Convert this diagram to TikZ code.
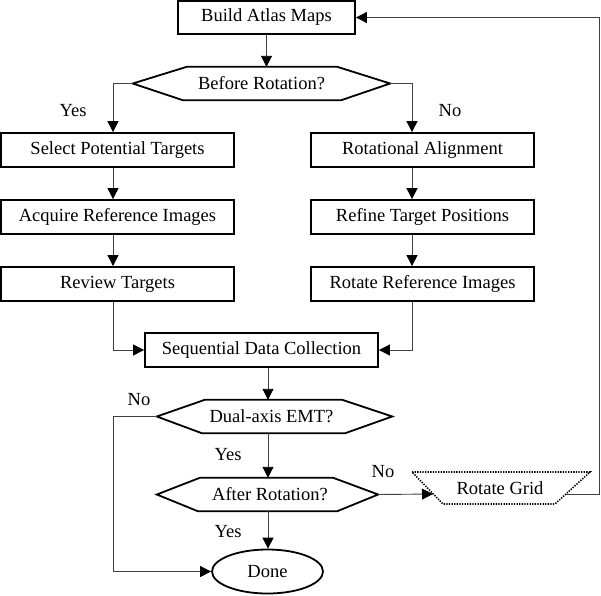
\documentclass[tikz,border=0pt]{standalone}
\usepackage{fontspec}
\setmainfont{Liberation Serif}
\usetikzlibrary{arrows.meta,calc,shapes.geometric}
\begin{document}
\begin{tikzpicture}[x=1pt,y=-1pt,
  every node/.style={font=\fontsize{18.5}{21}\selectfont, inner sep=0pt},
  proc/.style={draw, line width=1.8pt, minimum height=34pt},
  conn/.style={line width=0.9pt, draw=black!75},
  arr/.style={conn, -{Triangle[length=11pt,width=11pt,color=black]}},
  hexa/.style={line width=1.8pt},
  lab/.style={}
]
\useasboundingbox (0,0) rectangle (601,595);
\coordinate (lx) at (113,0);
\coordinate (rx) at (412,0);
\coordinate (cx) at (268,0);
\coordinate (rr) at (599.5,0);

% process boxes
\node[proc, minimum width=177pt, minimum height=33pt] (build) at (266.5,17.5) {Build Atlas Maps};
\node[proc, minimum width=233pt] (sel)  at (117.5,150) {Select Potential Targets};
\node[proc, minimum width=233pt] (acq)  at (117.5,217) {Acquire Reference Images};
\node[proc, minimum width=233pt] (rev)  at (117.5,284) {Review Targets};
\node[proc, minimum width=223pt] (rot)  at (422.5,150) {Rotational Alignment};
\node[proc, minimum width=223pt] (ref)  at (422.5,217) {Refine Target Positions};
\node[proc, minimum width=223pt] (rrot) at (422.5,284) {Rotate Reference Images};
\node[proc, minimum width=233pt] (seq)  at (261.5,350) {Sequential Data Collection};

% decisions
\node[minimum width=257pt, minimum height=33pt] (before) at (261.5,83.5) {Before Rotation?};
\draw[hexa] (before.west) -- ($(before.north west)+(54,0)$) -- ($(before.north east)+(-53,0)$)
  -- (before.east) -- ($(before.south east)+(-49,0)$) -- ($(before.south west)+(50,0)$) -- cycle;

\node[minimum width=235pt, minimum height=33pt] (dual) at (274.5,416.5) {};
\node at (271.5,416.5) (dualtxt) {Dual-axis EMT?};
\draw[hexa] (dual.west) -- ($(dual.north west)+(48,0)$) -- ($(dual.north east)+(-50,0)$)
  -- (dual.east) -- ($(dual.south east)+(-47,0)$) -- ($(dual.south west)+(45,0)$) -- cycle;

\node[minimum width=221pt, minimum height=33pt] (after) at (267.5,494.5) {};
\node at (270,494.5) (aftertxt) {After Rotation?};
\draw[hexa] (after.west) -- ($(after.north west)+(43,0)$) -- ($(after.north east)+(-45,0)$)
  -- (after.east) -- ($(after.south east)+(-41,0)$) -- ($(after.south west)+(41,0)$) -- cycle;

% terminal
\node[draw, ellipse, line width=1.8pt, minimum width=111pt, minimum height=44pt] (done) at (267.5,571.5) {Done};

% rotate grid (dotted trapezoid)
\coordinate (g1) at (412,472);
\coordinate (g2) at (590,472);
\coordinate (g3) at (555,504);
\coordinate (g4) at (443,504);
\draw[line width=1.6pt, dash pattern=on 1.3pt off 1.3pt] (g1) -- (g2) -- (g3) -- (g4) -- cycle;
\node (grid) at (500,488) {Rotate Grid};
\coordinate (gin) at (433,494);
\coordinate (gout) at (566,494);

% connectors
\draw[arr] (build.south) -- (build.south |- before.north);
\draw[arr] (before.west) -| (lx |- sel.north);
\draw[arr] (before.east) -| (rx |- rot.north);
\draw[arr] (lx |- sel.south) -- (lx |- acq.north);
\draw[arr] (lx |- acq.south) -- (lx |- rev.north);
\draw[arr] (rx |- rot.south) -- (rx |- ref.north);
\draw[arr] (rx |- ref.south) -- (rx |- rrot.north);
\draw[arr] (lx |- rev.south) |- (seq.west);
\draw[arr] (rx |- rrot.south) |- (seq.east);
\draw[arr] (cx |- seq.south) -- (cx |- dual.north);
\draw[arr] (dual.west) -| (lx |- done.west) -- (done.west);
\draw[arr] (cx |- dual.south) -- (cx |- after.north);
\draw[arr] (cx |- after.south) -- (cx |- done.north);
\draw[arr] (after.east) -- (gin);
\draw[arr] (gout) -| (rr |- build.east) -- (build.east);

% labels
\node (l1) at (73,111) {Yes};
\node (l2) at (450,111) {No};
\node (l3) at (139,400) {No};
\node (l4) at (228,455) {Yes};
\node (l5) at (383,472) {No};
\node (l6) at (228,532) {Yes};
\end{tikzpicture}
\end{document}
